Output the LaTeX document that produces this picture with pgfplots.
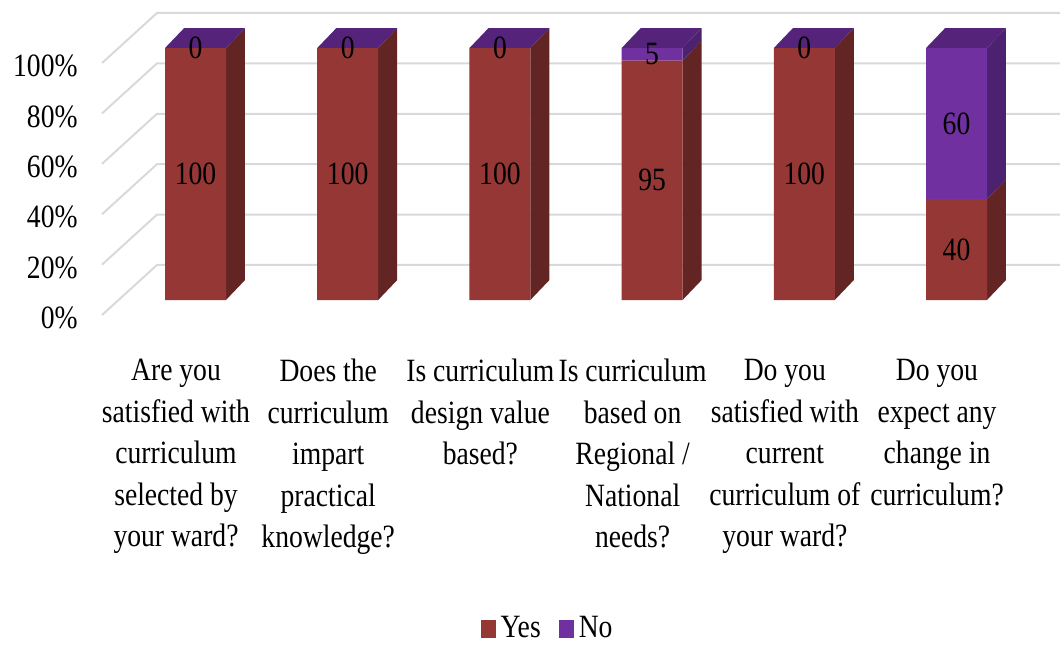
\documentclass[border=0pt]{standalone}
\usepackage{fontspec}
\setmainfont{Liberation Serif}[FakeStretch=0.85]
\usepackage{pgfplots}
\pgfplotsset{compat=1.18}
\definecolor{yesF}{HTML}{953735}
\definecolor{yesS}{HTML}{632523}
\definecolor{noF}{HTML}{7030A0}
\definecolor{noS}{HTML}{4C216F}
\definecolor{noT}{HTML}{55247A}
\definecolor{gridc}{HTML}{D9D9D9}
\newcommand\cf{\fontsize{16.25}{20.75}\selectfont}
\pgfplotsset{
  base/.style={x=76.1pt, y=1.26pt, xmin=-0.7326, xmax=5.68, ymin=-5.95, ymax=113.9,
    axis line style={draw=none}, major tick length=0pt, clip=false, enlargelimits=false,
    /pgf/number format/assume math mode=true},
  face/.style={draw=none, fill=#1, forget plot},
  gl/.style={gridc, line width=1pt, forget plot},
  sq/.style={legend image code/.code={\fill[##1] (0pt,-4.5pt) rectangle (7.5pt,4.5pt);}},
}
\begin{document}
\cf
\begin{tikzpicture}
% ---- axis A: walls, grid, side and top faces, tick labels
\begin{axis}[base, name=A,
  ytick={-5.95,14.05,34.05,54.05,74.05,94.05},
  yticklabels={0\%,20\%,40\%,60\%,80\%,100\%},
  yticklabel style={font=\cf, inner sep=0pt, xshift=-3pt, yshift=-1.5pt},
  xtick={-0.128,0.872,1.872,2.872,3.872,4.872},
  xticklabels={{Are you\\satisfied with\\curriculum\\selected by\\your ward?},
               {Does the\\curriculum\\impart\\practical\\knowledge?},
               {Is curriculum\\design value\\based?},
               {Is curriculum\\based on\\Regional /\\National\\needs?},
               {Do you\\satisfied with\\current\\curriculum of\\your ward?},
               {Do you\\expect any\\change in\\curriculum?}},
  xticklabel style={font=\cf, align=center, inner sep=0pt, yshift=-22pt, anchor=north},
]
\addplot[gl] coordinates {(-0.614,-5.95) (-0.253,13.9) (5.68,13.9)};
\addplot[gl] coordinates {(-0.614,14.05) (-0.253,33.9) (5.68,33.9)};
\addplot[gl] coordinates {(-0.614,34.05) (-0.253,53.9) (5.68,53.9)};
\addplot[gl] coordinates {(-0.614,54.05) (-0.253,73.9) (5.68,73.9)};
\addplot[gl] coordinates {(-0.614,74.05) (-0.253,93.9) (5.68,93.9)};
\addplot[gl] coordinates {(-0.614,94.05) (-0.253,113.9) (5.68,113.9)};
% side faces (Yes)
\addplot[face=yesS] coordinates {(0.2,0) (0.325,7.9) (0.325,107.9) (0.2,100) (0.2,0)};
\addplot[face=yesS] coordinates {(1.2,0) (1.325,7.9) (1.325,107.9) (1.2,100) (1.2,0)};
\addplot[face=yesS] coordinates {(2.2,0) (2.325,7.9) (2.325,107.9) (2.2,100) (2.2,0)};
\addplot[face=yesS] coordinates {(3.2,0) (3.325,7.9) (3.325,102.9) (3.2,95) (3.2,0)};
\addplot[face=yesS] coordinates {(4.2,0) (4.325,7.9) (4.325,107.9) (4.2,100) (4.2,0)};
\addplot[face=yesS] coordinates {(5.2,0) (5.325,7.9) (5.325,47.9) (5.2,40) (5.2,0)};
% side faces (No)
\addplot[face=noS] coordinates {(3.2,95) (3.325,102.9) (3.325,107.9) (3.2,100) (3.2,95)};
\addplot[face=noS] coordinates {(5.2,40) (5.325,47.9) (5.325,107.9) (5.2,100) (5.2,40)};
% top faces
\addplot[face=noT] coordinates {(-0.2,100) (0.2,100) (0.325,107.9) (-0.075,107.9) (-0.2,100)};
\addplot[face=noT] coordinates {(0.8,100) (1.2,100) (1.325,107.9) (0.925,107.9) (0.8,100)};
\addplot[face=noT] coordinates {(1.8,100) (2.2,100) (2.325,107.9) (1.925,107.9) (1.8,100)};
\addplot[face=noT] coordinates {(2.8,100) (3.2,100) (3.325,107.9) (2.925,107.9) (2.8,100)};
\addplot[face=noT] coordinates {(3.8,100) (4.2,100) (4.325,107.9) (3.925,107.9) (3.8,100)};
\addplot[face=noT] coordinates {(4.8,100) (5.2,100) (5.325,107.9) (4.925,107.9) (4.8,100)};
\end{axis}
% ---- axis B: front faces (stacked bars) and legend
\begin{axis}[base, ybar stacked, bar width=0.4008, xtick=\empty, ytick=\empty,
  legend columns=2, legend cell align=left,
  legend style={draw=none, fill=none, font=\cf, at={(0.4739,-1.0397)}, anchor=center,
    inner sep=0pt, nodes={inner sep=0pt},
    /tikz/every odd column/.append style={column sep=2.5pt},
    /tikz/every even column/.append style={column sep=9pt}},
]
\addplot[fill=yesF, draw=none, sq] coordinates {(0,100) (1,100) (2,100) (3,95) (4,100) (5,40)};
\addplot[fill=noF, draw=none, sq] coordinates {(0,0) (1,0) (2,0) (3,5) (4,0) (5,60)};
\legend{Yes,No}
\end{axis}
% ---- axis C: value labels
\begin{axis}[base, xtick=\empty, ytick=\empty]
\addplot[draw=none, mark=none, nodes near coords, point meta=explicit symbolic,
  every node near coord/.append style={font=\cf, anchor=center, inner sep=0pt}]
  coordinates {(0,100)[0] (1,100)[0] (2,100)[0] (3,97.5)[5] (4,100)[0] (5,70)[60]
               (0,50)[100] (1,50)[100] (2,50)[100] (3,47.5)[95] (4,50)[100] (5,20)[40]};
\end{axis}
\pgfresetboundingbox
\path[use as bounding box] (A.south west) ++(-42pt,-164.5pt) rectangle ++(530pt,322pt);
\end{tikzpicture}
\end{document}
